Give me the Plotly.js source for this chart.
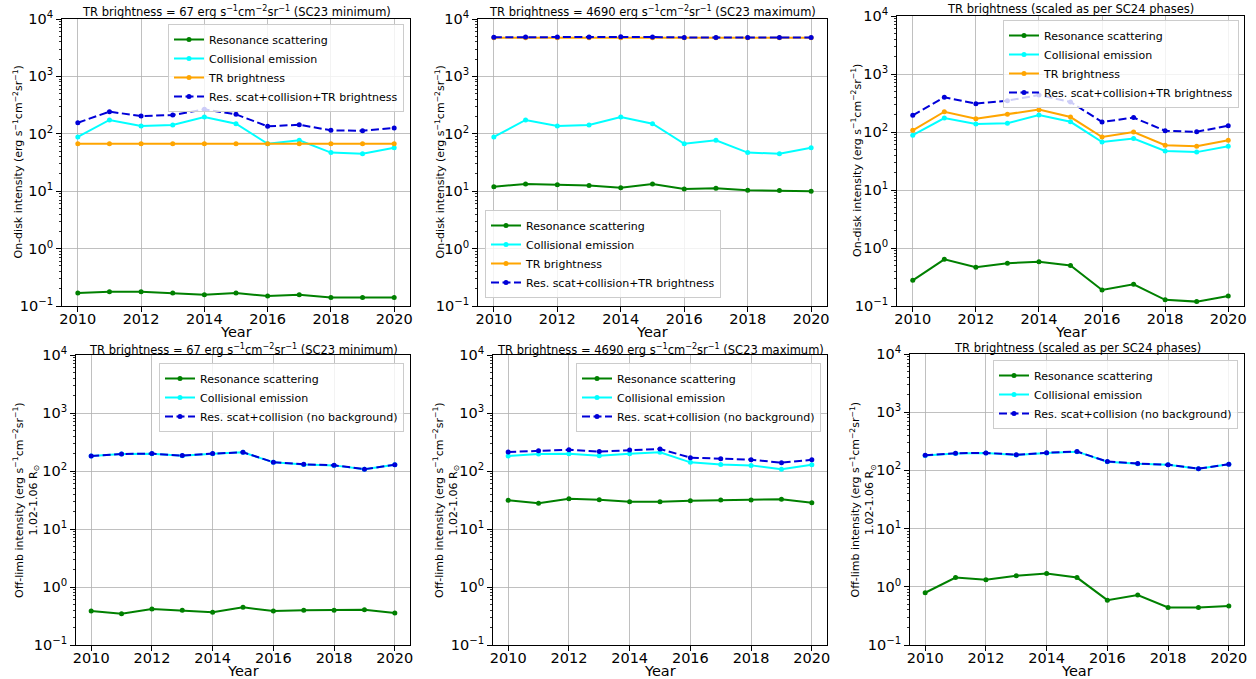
<!DOCTYPE html>
<html><head><meta charset="utf-8">
<script src="https://cdn.plot.ly/plotly-3.0.1.min.js"></script>
<style>html,body{margin:0;padding:0;background:#fff}#chart{width:1256px;height:679px}</style>
</head><body><div id="chart"></div>
<script>
// ---------- data ----------
const years = [2010,2011,2012,2013,2014,2015,2016,2017,2018,2019,2020];

// On-disk
const collOnDisk      = [88,174,137,142,196,150,67,77,47,45,57];
const resOnDiskMin    = [0.168,0.177,0.177,0.168,0.157,0.168,0.149,0.157,0.140,0.140,0.140];
const trOnDiskMin     = [67,67,67,67,67,67,67,67,67,67,67];
const totalOnDiskMin  = [156,243,204,212,267,218,135,144,115,113,126];

const resOnDiskMax    = [12.0,13.3,13.0,12.6,11.5,13.3,10.9,11.2,10.4,10.3,10.0];
const trOnDiskMax     = [4690,4690,4690,4690,4690,4690,4690,4690,4690,4690,4690];
const totalOnDiskMax  = [4790,4877,4840,4845,4898,4853,4768,4778,4747,4745,4757];

const resOnDiskSC24   = [0.277,0.638,0.465,0.545,0.580,0.500,0.189,0.237,0.128,0.119,0.149];
const trOnDiskSC24    = [107,224,170,202,243,181,82,100,59,57,72];
const totalOnDiskSC24 = [194,396,308,347,434,329,149,177,105,101,128];

// Off-limb
const collOffLimb      = [181,196,199,184,199,210,141,130,125,107,128];
const resOffLimbMin    = [0.385,0.347,0.418,0.397,0.366,0.447,0.385,0.397,0.397,0.406,0.356];
const totalOffLimbMin  = [181.4,196.3,199.4,184.4,199.4,210.4,141.4,130.4,125.4,107.4,128.4];

const resOffLimbMax    = [31.2,27.7,33.3,32.0,29.6,29.6,30.8,31.6,31.6,32.5,28.4];
const totalOffLimbMax  = [213,224,232,216,230,240,170,162,157,139,156];

const resOffLimbSC24   = [0.79,1.44,1.32,1.55,1.70,1.44,0.59,0.72,0.44,0.44,0.47];
const totalOffLimbSC24 = [182,197,200,186,201,211,142,131,125,107,128];

const yTickVals = [0.1,1,10,100,1000,10000];
const yTickText = ['10<sup>\u22121</sup>','10<sup>0</sup>','10<sup>1</sup>','10<sup>2</sup>','10<sup>3</sup>','10<sup>4</sup>'];
const xTickVals = [2010,2012,2014,2016,2018,2020];

const panelTitles = [
  'TR brightness = 67 erg s<sup>\u22121</sup>cm<sup>\u22122</sup>sr<sup>\u22121</sup> (SC23 minimum)',
  'TR brightness = 4690 erg s<sup>\u22121</sup>cm<sup>\u22122</sup>sr<sup>\u22121</sup> (SC23 maximum)',
  'TR brightness (scaled as per SC24 phases)',
  'TR brightness = 67 erg s<sup>\u22121</sup>cm<sup>\u22122</sup>sr<sup>\u22121</sup> (SC23 minimum)',
  'TR brightness = 4690 erg s<sup>\u22121</sup>cm<sup>\u22122</sup>sr<sup>\u22121</sup> (SC23 maximum)',
  'TR brightness (scaled as per SC24 phases)'
];
const yTitleOnDisk  = 'On-disk intensity (erg s<sup>\u22121</sup>cm<sup>\u22122</sup>sr<sup>\u22121</sup>)';
const yTitleOffLimb = 'Off-limb intensity (erg s<sup>\u22121</sup>cm<sup>\u22122</sup>sr<sup>\u22121</sup>)<br>1.02-1.06 R<sub>\u2299</sub>';

const nameRes = 'Resonance scattering';
const nameColl = 'Collisional emission';
const nameTR = 'TR brightness';
const nameTotOn = 'Res. scat+collision+TR brightness';
const nameTotOff = 'Res. scat+collision (no background)';

// ---------- styling / layout ----------
const W = 1256, H = 679;
const FONT = 'DejaVu Sans, Liberation Sans, sans-serif';
const C = {res:'#008000', coll:'#00ffff', tr:'#ffa500', tot:'#0000d8'};

// pixel boxes [left, right, top, bottom]
const boxes = [
  [62,410,19,306],[478,827,19,306],[897,1244,16,306],
  [76,410,355,645],[493,827,355,645],[910,1244,354,645]
];

const panels = [
  {series:[[resOnDiskMin,nameRes,'res'],[collOnDisk,nameColl,'coll'],[trOnDiskMin,nameTR,'tr'],[totalOnDiskMin,nameTotOn,'tot']],
   legend:{x:404,y:24,xa:'right',ya:'top'}, ytitle:yTitleOnDisk, ytx:18, tfs:11.5, ty:11},
  {series:[[resOnDiskMax,nameRes,'res'],[collOnDisk,nameColl,'coll'],[trOnDiskMax,nameTR,'tr'],[totalOnDiskMax,nameTotOn,'tot']],
   legend:{x:485,y:298,xa:'left',ya:'bottom'}, ytitle:yTitleOnDisk, ytx:440, tfs:11.5, ty:11},
  {series:[[resOnDiskSC24,nameRes,'res'],[collOnDisk,nameColl,'coll'],[trOnDiskSC24,nameTR,'tr'],[totalOnDiskSC24,nameTotOn,'tot']],
   legend:{x:1239,y:20,xa:'right',ya:'top'}, ytitle:yTitleOnDisk, ytx:856, tfs:11.5, ty:9},
  {series:[[resOffLimbMin,nameRes,'res'],[collOffLimb,nameColl,'coll'],[totalOffLimbMin,nameTotOff,'tot']],
   legend:{x:404,y:363,xa:'right',ya:'top'}, ytitle:yTitleOffLimb, ytx:26, tfs:11.5, ty:350},
  {series:[[resOffLimbMax,nameRes,'res'],[collOffLimb,nameColl,'coll'],[totalOffLimbMax,nameTotOff,'tot']],
   legend:{x:821,y:363,xa:'right',ya:'top'}, ytitle:yTitleOffLimb, ytx:446, tfs:11.5, ty:350},
  {series:[[resOffLimbSC24,nameRes,'res'],[collOffLimb,nameColl,'coll'],[totalOffLimbSC24,nameTotOff,'tot']],
   legend:{x:1238,y:360,xa:'right',ya:'top'}, ytitle:yTitleOffLimb, ytx:862, tfs:11.5, ty:348}
];

const px = v => v / W;
const py = v => 1 - v / H;

const traces = [];
const layout = {
  width: W, height: H,
  margin: {l:0, r:0, t:0, b:0},
  paper_bgcolor: '#fff', plot_bgcolor: '#fff',
  font: {family: FONT, color: '#000'},
  annotations: [],
  showlegend: true
};

panels.forEach((p, i) => {
  const n = i + 1;
  const xa = n === 1 ? 'xaxis' : 'xaxis' + n;
  const ya = n === 1 ? 'yaxis' : 'yaxis' + n;
  const xr = n === 1 ? 'x' : 'x' + n;
  const yr = n === 1 ? 'y' : 'y' + n;
  const lg = n === 1 ? 'legend' : 'legend' + n;
  const b = boxes[i];

  p.series.forEach(([vals, name, kind]) => {
    traces.push({
      x: years, y: vals, name: name, type: 'scatter', mode: 'lines+markers',
      xaxis: xr, yaxis: yr, legend: lg,
      line: {color: C[kind], width: 2, dash: kind === 'tot' ? '8px,3.5px' : 'solid'},
      marker: {color: C[kind], size: 5}
    });
  });

  layout[xa] = {
    domain: [px(b[0]), px(b[1])], anchor: yr,
    range: [2009.5, 2020.5], tickmode: 'array', tickvals: xTickVals,
    ticks: 'outside', ticklen: 5, tickwidth: 1, tickcolor: '#000',
    ticklabelstandoff: -5,
    showline: true, mirror: true, linecolor: '#000', linewidth: 1,
    showgrid: true, gridcolor: '#b0b0b0', gridwidth: 0.8, zeroline: false,
    tickfont: {size: 14.5, family: FONT, color: '#000'}
  };
  layout[ya] = {
    domain: [py(b[3]), py(b[2])], anchor: xr, type: 'log',
    range: [-1, 4], tickmode: 'array', tickvals: yTickVals, ticktext: yTickText,
    ticks: 'outside', ticklen: 5, tickwidth: 1, tickcolor: '#000',
    showline: true, mirror: true, linecolor: '#000', linewidth: 1,
    showgrid: true, gridcolor: '#b0b0b0', gridwidth: 0.8, zeroline: false,
    tickfont: {size: 14.5, family: FONT, color: '#000'},
    minor: {ticks: 'outside', ticklen: 2.5, tickwidth: 0.8, tickcolor: '#000', dtick: 'D1', showgrid: false}
  };
  layout[lg] = {
    x: px(p.legend.x), y: py(p.legend.y), xanchor: p.legend.xa, yanchor: p.legend.ya,
    bgcolor: 'rgba(255,255,255,0.8)', bordercolor: '#cccccc', borderwidth: 1,
    font: {size: 11, family: FONT, color: '#000'}, tracegroupgap: 0
  };

  const cx = (b[0] + b[1]) / 2;
  layout.annotations.push({
    xref: 'paper', yref: 'paper', x: px(cx), y: py(p.ty),
    xanchor: 'center', yanchor: 'middle', showarrow: false,
    text: panelTitles[i], font: {size: p.tfs, family: FONT, color: '#000'}
  });
  layout.annotations.push({
    xref: 'paper', yref: 'paper', x: px(cx), y: py(b[3] + 26),
    xanchor: 'center', yanchor: 'middle', showarrow: false,
    text: 'Year', font: {size: 14.5, family: FONT, color: '#000'}
  });
  layout.annotations.push({
    xref: 'paper', yref: 'paper', x: px(p.ytx), y: py((b[2] + b[3]) / 2),
    xanchor: 'center', yanchor: 'middle', showarrow: false, textangle: -90,
    text: p.ytitle, font: {size: 11, family: FONT, color: '#000'}
  });
});

Plotly.newPlot('chart', traces, layout, {staticPlot: true, displayModeBar: false});
</script>
</body></html>
